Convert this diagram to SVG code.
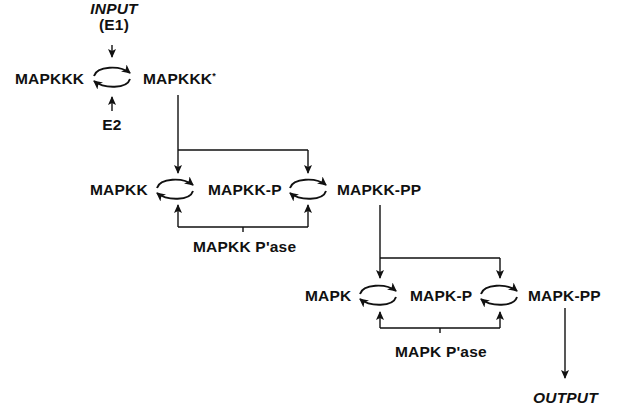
<svg xmlns="http://www.w3.org/2000/svg" width="619" height="415" viewBox="0 0 619 415">
<defs>
<style>
.t{font-family:"Liberation Sans",Arial,sans-serif;font-size:15.5px;font-weight:bold;fill:#111;letter-spacing:0.2px}
.i{font-style:italic}
.ln{fill:none;stroke:#111;stroke-width:1.4}
.ar{fill:none;stroke:#111;stroke-width:1.4;marker-end:url(#ah)}
.cy{fill:none;stroke:#111;stroke-width:1.9;marker-end:url(#ch)}
</style>
<marker id="ah" markerUnits="userSpaceOnUse" markerWidth="10" markerHeight="9" refX="8" refY="4" orient="auto"><path d="M0,0 L9,4 L0,8 L2,4 z" fill="#111"/></marker>
<marker id="ch" markerUnits="userSpaceOnUse" markerWidth="10" markerHeight="10" refX="8" refY="4.5" orient="auto"><path d="M0,0 L9,4.5 L0,9 L2.5,4.5 z" fill="#111"/></marker>
<g id="cycle">
<path class="cy" d="M -18 -1 C -15 -11, 8 -12, 18 -4"/>
<path class="cy" d="M 18 2 C 15 12, -8 12, -18 4"/>
</g>
</defs>
<g id="connectors">
<path class="ar" d="M112 45 V57"/>
<path class="ar" d="M112 111 V97"/>
<path class="ln" d="M178 95 V150 M178 150 H308"/>
<path class="ar" d="M178 150 V173"/>
<path class="ar" d="M308 150 V173"/>
<path class="ln" d="M178 227 H308 M243 227 V232"/>
<path class="ar" d="M178 227 V205"/>
<path class="ar" d="M308 227 V205"/>
<path class="ln" d="M380 205 V258 M380 258 H500"/>
<path class="ar" d="M380 258 V278"/>
<path class="ar" d="M500 258 V278"/>
<path class="ln" d="M380 328 H500 M440 328 V333"/>
<path class="ar" d="M380 328 V312"/>
<path class="ar" d="M500 328 V312"/>
<path class="ar" d="M565 308 V378"/>
<use href="#cycle" x="112" y="77"/>
<use href="#cycle" x="175" y="189"/>
<use href="#cycle" x="308" y="189"/>
<use href="#cycle" x="378" y="295"/>
<use href="#cycle" x="499" y="295"/>
</g>
<g id="input"><text class="t i" x="114" y="14" text-anchor="middle">INPUT</text><text class="t" x="114" y="30" text-anchor="middle">(E1)</text></g>
<g id="e2"><text class="t" x="112" y="130" text-anchor="middle">E2</text></g>
<g id="mapkkk"><text class="t" x="15" y="84">MAPKKK</text></g>
<g id="mapkkk-star"><text class="t" x="143" y="84">MAPKKK<tspan font-size="9" dy="-5">*</tspan></text></g>
<g id="mapkk"><text class="t" x="90" y="195">MAPKK</text></g>
<g id="mapkk-p"><text class="t" x="208" y="195">MAPKK-P</text></g>
<g id="mapkk-pp"><text class="t" x="337" y="195">MAPKK-PP</text></g>
<g id="mapkk-pase"><text class="t" x="193" y="252">MAPKK P'ase</text></g>
<g id="mapk"><text class="t" x="305" y="301">MAPK</text></g>
<g id="mapk-p"><text class="t" x="410" y="301">MAPK-P</text></g>
<g id="mapk-pp"><text class="t" x="528" y="301">MAPK-PP</text></g>
<g id="mapk-pase"><text class="t" x="395" y="357">MAPK P'ase</text></g>
<g id="output"><text class="t i" x="533" y="403">OUTPUT</text></g>
</svg>
